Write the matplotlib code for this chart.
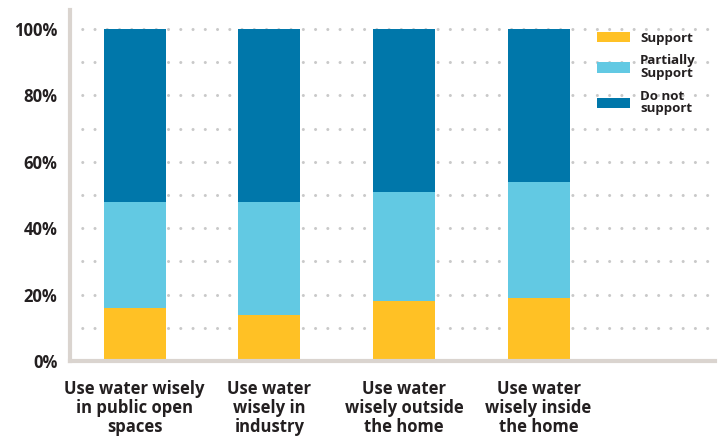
import matplotlib.pyplot as plt
import numpy as np

plt.rcParams['font.family'] = ['Open Sans', 'DejaVu Sans']

categories = ["Use water wisely\nin public open\nspaces",
              "Use water\nwisely in\nindustry",
              "Use water\nwisely outside\nthe home",
              "Use water\nwisely inside\nthe home"]
support = [16, 14, 18, 19]
partially = [32, 34, 33, 35]
not_support = [52, 52, 49, 46]

c_support = "#FFC125"
c_partial = "#62C9E3"
c_not = "#0077AA"
text_col = "#231F20"
spine_col = "#DAD4CF"

fig = plt.figure(figsize=(7.24, 4.41), dpi=100)
ax = fig.add_axes([0.0967, 0.1814, 0.8909, 0.7959])

x = np.arange(len(categories))
w = 0.46
ax.bar(x, support, w, color=c_support, label="Support", zorder=3)
ax.bar(x, partially, w, bottom=support, color=c_partial, label="Partially\nSupport", zorder=3)
ax.bar(x, not_support, w, bottom=np.add(support, partially), color=c_not,
       label="Do not\nsupport", zorder=3)

ax.set_xlim(-0.48, 4.31)
ax.set_ylim(0, 105.7)

# dotted grid every 10%, labels every 20%
for yv in range(10, 101, 10):
    ax.axhline(yv, color="#C9C9C9", lw=2.2, ls=(0, (0.01, 4.0)),
               dash_capstyle="round", zorder=1)

ax.set_yticks(range(0, 101, 20))
ax.set_yticklabels([f"{v}%" for v in range(0, 101, 20)],
                   fontsize=12, fontweight="bold", color=text_col)
ax.set_xticks(x)
ax.set_xticklabels(categories, fontsize=12, fontweight="bold", color=text_col,
                   linespacing=1.05)
ax.tick_params(axis="y", length=0, pad=9)
ax.tick_params(axis="x", length=0, pad=14)

for s in ["top", "right"]:
    ax.spines[s].set_visible(False)
for s in ["left", "bottom"]:
    ax.spines[s].set_color(spine_col)
    ax.spines[s].set_linewidth(3)
    ax.spines[s].set_zorder(4)

leg = ax.legend(loc="upper left", bbox_to_anchor=(0.803, 0.965), frameon=False,
                prop={"size": 9.5, "weight": "bold"}, handlelength=2.5,
                handleheight=0.85, handletextpad=0.75, labelspacing=0.75,
                borderpad=0.2, labelcolor=text_col)
for t in leg.get_texts():
    t.set_linespacing(0.95)

fig.savefig("out.png", dpi=100)
